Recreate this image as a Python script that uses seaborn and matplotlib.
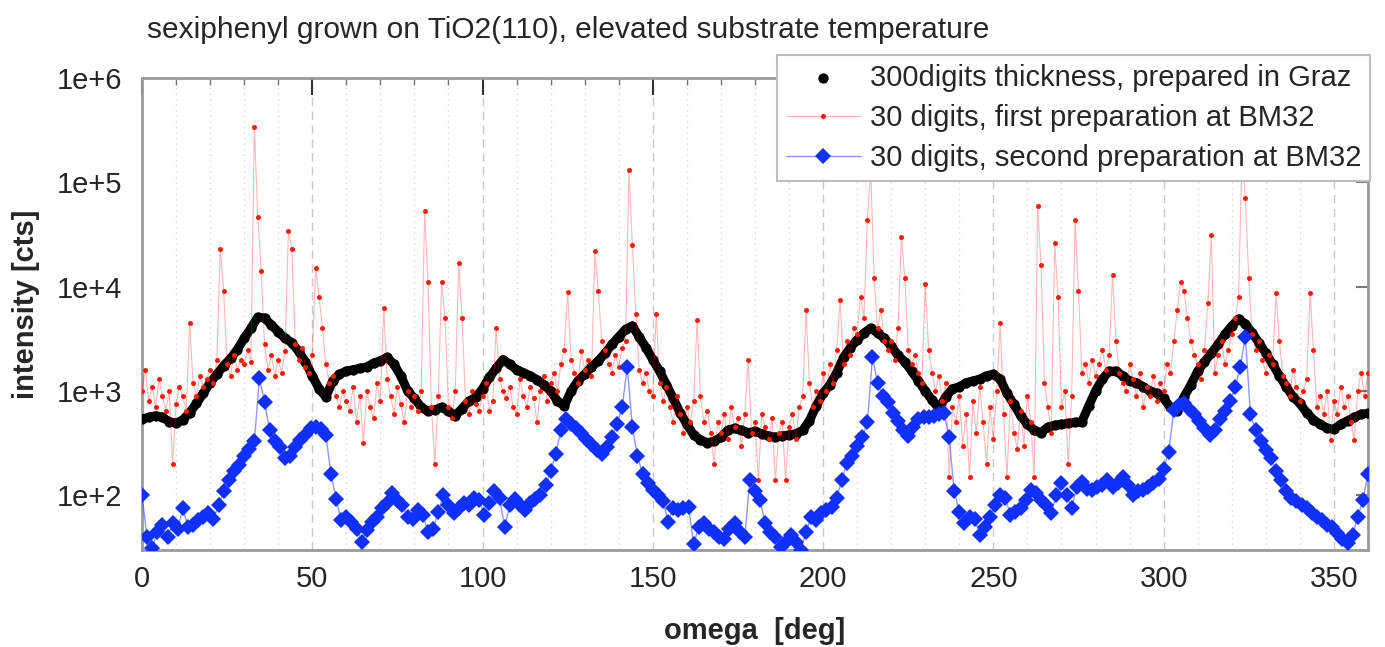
import matplotlib.pyplot as plt
import numpy as np
import seaborn as sns
from matplotlib.ticker import MultipleLocator, FixedLocator, NullLocator, FuncFormatter

# omega grids of the three scans [deg]
omega_graz = np.arange(0, 361, 2)
omega_first = np.arange(0, 361, 1)
omega_second = np.arange(0, 360.1, 1.5)

# 300 digits, Graz (read every 2 deg)
graz_cts = [
    540, 560, 580, 560, 510, 490, 530, 620, 760, 950,
    1200, 1450, 1750, 2050, 2500, 3200, 4000, 5100, 5000, 4300,
    3700, 3200, 2900, 2400, 1900, 1400, 1050, 880, 1250, 1450,
    1550, 1600, 1650, 1700, 1850, 1950, 2100, 1800, 1400, 1000,
    850, 700, 640, 660, 700, 640, 580, 680, 800, 870,
    1050, 1350, 1650, 2000, 1800, 1600, 1500, 1400, 1280, 1150,
    1000, 800, 720, 1000, 1250, 1450, 1700, 1950, 2300, 2800,
    3300, 3900, 4200, 3300, 2600, 2000, 1550, 1150, 850, 620,
    480, 380, 340, 320, 330, 360, 420, 440, 420, 400,
    410, 390, 370, 360, 370, 380, 390, 420, 520, 720,
    950, 1150, 1500, 2100, 2600, 3100, 3600, 4000, 3600, 3200,
    2700, 2200, 1900, 1550, 1250, 1000, 820, 680, 880, 1050,
    1100, 1200, 1250, 1300, 1400, 1450, 1300, 950, 750, 580,
    480, 420, 400, 450, 470, 480, 490, 500, 510, 720,
    1000, 1300, 1550, 1550, 1400, 1250, 1200, 1100, 1000, 950,
    850, 700, 640, 880, 1150, 1550, 1900, 2300, 2800, 3500,
    4200, 4900, 4400, 3600, 2900, 2300, 1800, 1400, 1100, 880,
    760, 620, 530, 480, 440, 430, 480, 520, 560, 600,
    610,
]

# 30 digits, first preparation at BM32 (read every 1 deg)
first_cts = [
    1000, 1600, 800, 1100, 700, 1300, 900, 650, 1000, 200,
    750, 1100, 900, 650, 4500, 1200, 900, 1400, 1100, 1300,
    1600, 1200, 2000, 23000, 9000, 1800, 1400, 2200, 1600, 2000,
    1800, 2500, 1900, 340000, 47000, 14000, 2800, 1600, 2200, 1400,
    2000, 1500, 2400, 34000, 23000, 2800, 2000, 2600, 1700, 1500,
    2200, 15000, 8000, 4000, 1800, 1200, 1400, 900, 700, 1000,
    800, 650, 1100, 500, 900, 320, 1000, 700, 550, 1200,
    800, 6300, 1300, 900, 600, 1100, 750, 500, 1000, 700,
    900, 650, 1000, 53000, 11000, 700, 200, 900, 11000, 5000,
    700, 550, 1000, 17000, 5000, 800, 600, 1000, 750, 650,
    900, 1200, 650, 800, 4000, 1300, 1000, 850, 1100, 700,
    600, 1300, 900, 700, 1100, 850, 500, 1000, 1400, 800,
    1200, 1500, 1000, 1800, 2500, 8800, 2000, 1500, 1200, 2400,
    1600, 2000, 1400, 22000, 9000, 3000, 2500, 1800, 1500, 2200,
    1700, 2600, 3000, 130000, 25000, 5500, 1600, 1200, 1500, 1000,
    900, 5500, 1200, 800, 1100, 700, 500, 900, 600, 400,
    700, 500, 800, 4800, 900, 500, 650, 400, 200, 500,
    400, 600, 350, 700, 450, 550, 300, 600, 2000, 400,
    500, 140, 600, 450, 350, 550, 140, 400, 500, 140,
    450, 600, 350, 700, 900, 6000, 1200, 700, 1000, 800,
    1500, 1000, 1800, 1200, 2500, 7400, 1800, 3000, 2200, 4000,
    3500, 8000, 5000, 44000, 130000, 12000, 4000, 6000, 3000, 2500,
    3000, 2000, 4000, 30000, 12000, 2500, 1800, 2200, 1500, 1200,
    10700, 2500, 1500, 1000, 1400, 800, 1200, 150, 700, 500,
    900, 300, 600, 150, 800, 400, 1100, 500, 200, 700,
    350, 1000, 4500, 600, 150, 800, 400, 280, 650, 300,
    900, 500, 150, 59000, 16000, 1200, 700, 400, 26000, 8000,
    700, 1000, 200, 900, 44000, 9000, 1500, 1800, 1200, 2000,
    1400, 1800, 2500, 1600, 2200, 13000, 3000, 1500, 1200, 1000,
    1800, 1300, 900, 1500, 700, 1100, 900, 1400, 800, 1200,
    1000, 1800, 1500, 3000, 6000, 11000, 9000, 5000, 3000, 2200,
    1800, 1300, 2500, 7000, 31000, 1500, 2200, 3000, 1800, 2500,
    3500, 5000, 8000, 180000, 70000, 12000, 3500, 2500, 3000, 2000,
    1500, 2200, 1800, 8700, 3000, 1400, 1200, 900, 1600, 1100,
    800, 1000, 1300, 8700, 2500, 700, 900, 600, 1000, 340,
    800, 600, 1100, 700, 900, 500, 340, 1000, 1500, 900,
    1500,
]

# 30 digits, second preparation at BM32 (read every 1.5 deg)
second_cts = [
    100, 40, 31, 45, 52, 40, 54, 48, 75, 50,
    52, 58, 62, 68, 60, 80, 110, 140, 170, 195,
    240, 280, 330, 1330, 780, 420, 330, 290, 230, 240,
    290, 340, 380, 440, 450, 430, 380, 160, 93, 58,
    62, 55, 48, 36, 47, 55, 62, 75, 85, 105,
    90, 80, 62, 60, 72, 65, 45, 48, 70, 100,
    80, 68, 75, 85, 80, 95, 90, 65, 85, 110,
    95, 50, 80, 92, 80, 72, 85, 93, 100, 125,
    170, 250, 420, 540, 480, 440, 400, 350, 310, 270,
    250, 290, 360, 480, 700, 1700, 450, 240, 160, 130,
    112, 100, 88, 56, 75, 72, 75, 78, 34, 50,
    54, 48, 45, 40, 38, 48, 54, 45, 40, 140,
    110, 90, 54, 45, 40, 32, 36, 42, 36, 30,
    45, 62, 58, 68, 72, 78, 95, 140, 205, 240,
    300, 360, 500, 2100, 1200, 900, 780, 620, 520, 420,
    370, 450, 540, 560, 560, 580, 600, 620, 360, 110,
    70, 54, 62, 60, 42, 50, 62, 80, 100, 95,
    65, 70, 75, 90, 112, 105, 90, 80, 68, 100,
    130, 100, 75, 120, 135, 115, 112, 120, 125, 140,
    120, 130, 150, 125, 100, 110, 112, 120, 130, 145,
    180, 260, 660, 740, 760, 680, 600, 520, 440, 380,
    420, 540, 650, 800, 1090, 1700, 3300, 600, 420, 330,
    270, 230, 170, 140, 110, 95, 88, 80, 75, 68,
    62, 58, 52, 50, 44, 38, 35, 42, 62, 90,
    160,
]

labels = [
    "300digits thickness, prepared in Graz",
    "30 digits, first preparation at BM32",
    "30 digits, second preparation at BM32",
]
title = "sexiphenyl grown on TiO2(110), elevated substrate temperature"

sns.set_style("white")
plt.rcParams["font.family"] = ["Liberation Sans", "DejaVu Sans"]
text_col = "#262626"
fs = 21

fig = plt.figure(figsize=(13.85, 6.47), dpi=100)
ax = fig.add_axes([0.1025, 0.15, 0.8852, 0.7295])
ax.set_yscale("log")

# dense Graz scan: dots merge into a thick band
sns.lineplot(x=omega_graz, y=graz_cts, color="black", linewidth=6.5,
             label="_nolegend_", ax=ax, zorder=3)
sns.scatterplot(x=omega_graz, y=graz_cts, color="black", s=55, linewidth=0,
                label=labels[0], ax=ax, zorder=3)
sns.lineplot(x=omega_first, y=first_cts, color=(1, 0, 0, 0.28), linewidth=0.8,
             marker="o", markersize=3.6, markerfacecolor="#ff1a00",
             markeredgecolor="#ff1a00", markeredgewidth=0,
             label=labels[1], ax=ax, zorder=4)
sns.lineplot(x=omega_second, y=second_cts, color=(0.1, 0.2, 1, 0.5), linewidth=1.0,
             marker="D", markersize=8.5, markerfacecolor="#1030ff",
             markeredgecolor="#1030ff", markeredgewidth=0,
             label=labels[2], ax=ax, zorder=5)

ax.set_xlim(0, 360)
ax.set_ylim(30, 1e6)
ax.xaxis.set_major_locator(MultipleLocator(50))
ax.xaxis.set_minor_locator(MultipleLocator(10))
ax.yaxis.set_major_locator(FixedLocator([1e2, 1e3, 1e4, 1e5, 1e6]))
ax.yaxis.set_minor_locator(NullLocator())
ax.yaxis.set_major_formatter(FuncFormatter(lambda v, p: f"1e+{int(round(np.log10(v)))}"))

ax.grid(True, which="major", axis="x", linestyle=(0, (6, 4)), color="#c8c8c8", linewidth=1)
ax.grid(True, which="minor", axis="x", linestyle=(0, (1, 3)), color="#d8d8d8", linewidth=1)
ax.grid(False, axis="y")
ax.set_axisbelow(True)

ax.tick_params(axis="both", which="both", direction="in", top=True, right=True,
               labelcolor=text_col)
ax.tick_params(axis="x", which="major", length=12, width=1.5, color="#333333",
               labelsize=fs, pad=11)
ax.tick_params(axis="x", which="minor", length=5, width=1, color="#777777")
ax.tick_params(axis="y", which="major", length=9, width=1.5, color="#777777",
               labelsize=fs, pad=14)
for sp in ax.spines.values():
    sp.set_color("#9a9a9a")
    sp.set_linewidth(2)

ax.set_xlabel("omega  [deg]", fontsize=fs, fontweight="bold", color=text_col)
ax.set_ylabel("intensity [cts]", fontsize=fs, fontweight="bold", color=text_col)
ax.xaxis.set_label_coords(0.5, -0.142)
ax.yaxis.set_label_coords(-0.083, 0.52)

fig.text(147 / 1385, 1 - 30 / 647, title, fontsize=21.5, color=text_col,
         ha="left", va="center")

leg = ax.legend(loc="upper right", bbox_to_anchor=(1.002, 1.049), borderaxespad=0,
                fontsize=fs, frameon=True, fancybox=False, framealpha=1,
                handlelength=2.6, handletextpad=0.3, borderpad=0.3,
                labelspacing=0.42, edgecolor="#bdbdbd")
leg.get_frame().set_linewidth(1.5)
for t in leg.get_texts():
    t.set_color(text_col)
leg.set_zorder(10)

fig.savefig("out.png", dpi=100)
